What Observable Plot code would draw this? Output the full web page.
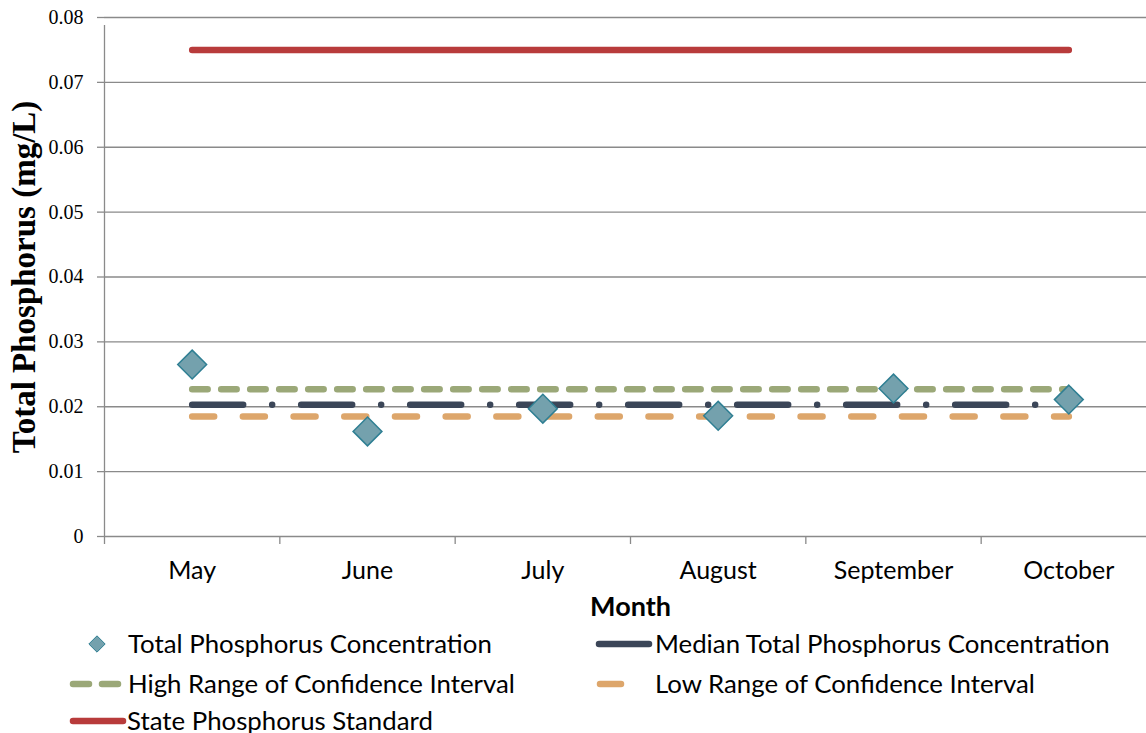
<!DOCTYPE html>
<html><head><meta charset="utf-8">
<script src="https://cdn.jsdelivr.net/npm/d3@7"></script>
<script src="https://cdn.jsdelivr.net/npm/@observablehq/plot@0.6"></script>
<style>
html,body{margin:0;padding:0;background:#fff;overflow:hidden;width:1146px;height:733px;position:relative}
#chart{position:absolute;left:0;top:0}
.leg{position:absolute;font-family:Lato,sans-serif;font-size:25.8px;color:#000;white-space:nowrap;line-height:1}
#sw{position:absolute;left:0;top:600px}
</style></head><body>
<div id="chart"></div>
<svg id="sw" width="1146" height="133"></svg>
<script>
// ---- data ----
const months = ["May", "June", "July", "August", "September", "October"];
const totalPhosphorus = [0.0265, 0.0162, 0.0197, 0.0186, 0.0228, 0.0211];
const medianTP = [0.0203, 0.0203, 0.0203, 0.0203, 0.0203, 0.0203];
const highCI = [0.0227, 0.0227, 0.0227, 0.0227, 0.0227, 0.0227];
const lowCI = [0.0185, 0.0185, 0.0185, 0.0185, 0.0185, 0.0185];
const stateStandard = [0.075, 0.075, 0.075, 0.075, 0.075, 0.075];
const yTicks = [0, 0.01, 0.02, 0.03, 0.04, 0.05, 0.06, 0.07, 0.08];
const seriesNames = ["Total Phosphorus Concentration", "Median Total Phosphorus Concentration",
  "High Range of Confidence Interval", "Low Range of Confidence Interval", "State Phosphorus Standard"];

const rows = months.map((m, i) => ({month: m, pos: i + 0.5, tp: totalPhosphorus[i],
  median: medianTP[i], high: highCI[i], low: lowCI[i], std: stateStandard[i]}));
const boundaries = d3.range(0, months.length + 1);
const centers = rows.map(d => d.pos);

const C = {red: "#b83b3b", green: "#9ba878", median: "#3b4658", orange: "#dda66b",
  dfill: "#74a1ad", dstroke: "#2f7f93", grid: "#8a8a8a"};

const plot = Plot.plot({
  width: 1146, height: 620,
  marginLeft: 104, marginRight: -10, marginTop: 17, marginBottom: 84,
  x: {domain: [0, months.length]},
  y: {domain: [0, 0.08]},
  style: {background: "white"},
  marks: [
    Plot.ruleY(yTicks, {stroke: C.grid, strokeWidth: 1.3}),
    Plot.ruleX([0], {y1: 0, y2: 0.08, insetBottom: -8, stroke: C.grid, strokeWidth: 1.3}),
    Plot.axisY({ticks: yTicks, tickSize: 7, tickPadding: 14, stroke: C.grid, strokeWidth: 1.3,
      tickFormat: d3.format("~g"), fontFamily: "Liberation Serif, serif", fontSize: 20, label: null}),
    Plot.axisX({ticks: boundaries, tickSize: 8, tickFormat: () => "", stroke: C.grid, strokeWidth: 1.3, label: null}),
    Plot.axisX({ticks: centers, tickSize: 0, tickPadding: 25, tickFormat: (d) => months[Math.floor(d)],
      fontFamily: "Lato, sans-serif", fontSize: 25, label: null}),
    Plot.text(["Month"], {frameAnchor: "bottom", dy: 79, fontFamily: "Lato, sans-serif", fontWeight: "bold", fontSize: 27}),
    Plot.text(["Total Phosphorus (mg/L)"], {frameAnchor: "left", textAnchor: "middle", rotate: -90, dx: -80,
      fontFamily: "Liberation Serif, serif", fontWeight: "bold", fontSize: 33}),
    Plot.lineY(rows, {x: "pos", y: "std", stroke: C.red, strokeWidth: 6.5, strokeLinecap: "round"}),
    Plot.lineY(rows, {x: "pos", y: "high", stroke: C.green, strokeWidth: 6.5, strokeLinecap: "round", strokeDasharray: "15.5,13.5"}),
    Plot.lineY(rows, {x: "pos", y: "median", stroke: C.median, strokeWidth: 6.5, strokeLinecap: "round", strokeDasharray: "51,29,0,29"}),
    Plot.lineY(rows, {x: "pos", y: "low", stroke: C.orange, strokeWidth: 6.5, strokeLinecap: "round", strokeDasharray: "22,28.7"}),
    Plot.dot(rows, {x: "pos", y: "tp", symbol: "diamond2", r: 13, fill: C.dfill, stroke: C.dstroke, strokeWidth: 1.5})
  ]
});
document.getElementById("chart").appendChild(plot);

// ---- legend ----
const sw = d3.select("#sw");
const oy = 600;
sw.append("path").attr("d", d3.symbol(d3.symbolDiamond2, 170)()).attr("transform", `translate(97,${644 - oy})`)
  .attr("fill", C.dfill).attr("stroke", C.dstroke).attr("stroke-width", 1);
sw.append("line").attr("x1", 599).attr("x2", 649).attr("y1", 644 - oy).attr("y2", 644 - oy)
  .attr("stroke", C.median).attr("stroke-width", 6.5).attr("stroke-linecap", "round");
sw.append("line").attr("x1", 73).attr("x2", 121).attr("y1", 684 - oy).attr("y2", 684 - oy)
  .attr("stroke", C.green).attr("stroke-width", 6.5).attr("stroke-linecap", "round").attr("stroke-dasharray", "16,13");
sw.append("line").attr("x1", 600).attr("x2", 621).attr("y1", 684 - oy).attr("y2", 684 - oy)
  .attr("stroke", C.orange).attr("stroke-width", 6.5).attr("stroke-linecap", "round");
sw.append("line").attr("x1", 73).attr("x2", 123).attr("y1", 721 - oy).attr("y2", 721 - oy)
  .attr("stroke", C.red).attr("stroke-width", 6.5).attr("stroke-linecap", "round");

const legPos = [[128, 644], [655, 644], [128, 684], [655, 684], [127, 721]];
seriesNames.forEach((name, i) => {
  const d = document.createElement("div");
  d.className = "leg";
  d.textContent = name;
  d.style.left = legPos[i][0] + "px";
  d.style.top = (legPos[i][1] - 13) + "px";
  document.body.appendChild(d);
});
</script>
</body></html>
